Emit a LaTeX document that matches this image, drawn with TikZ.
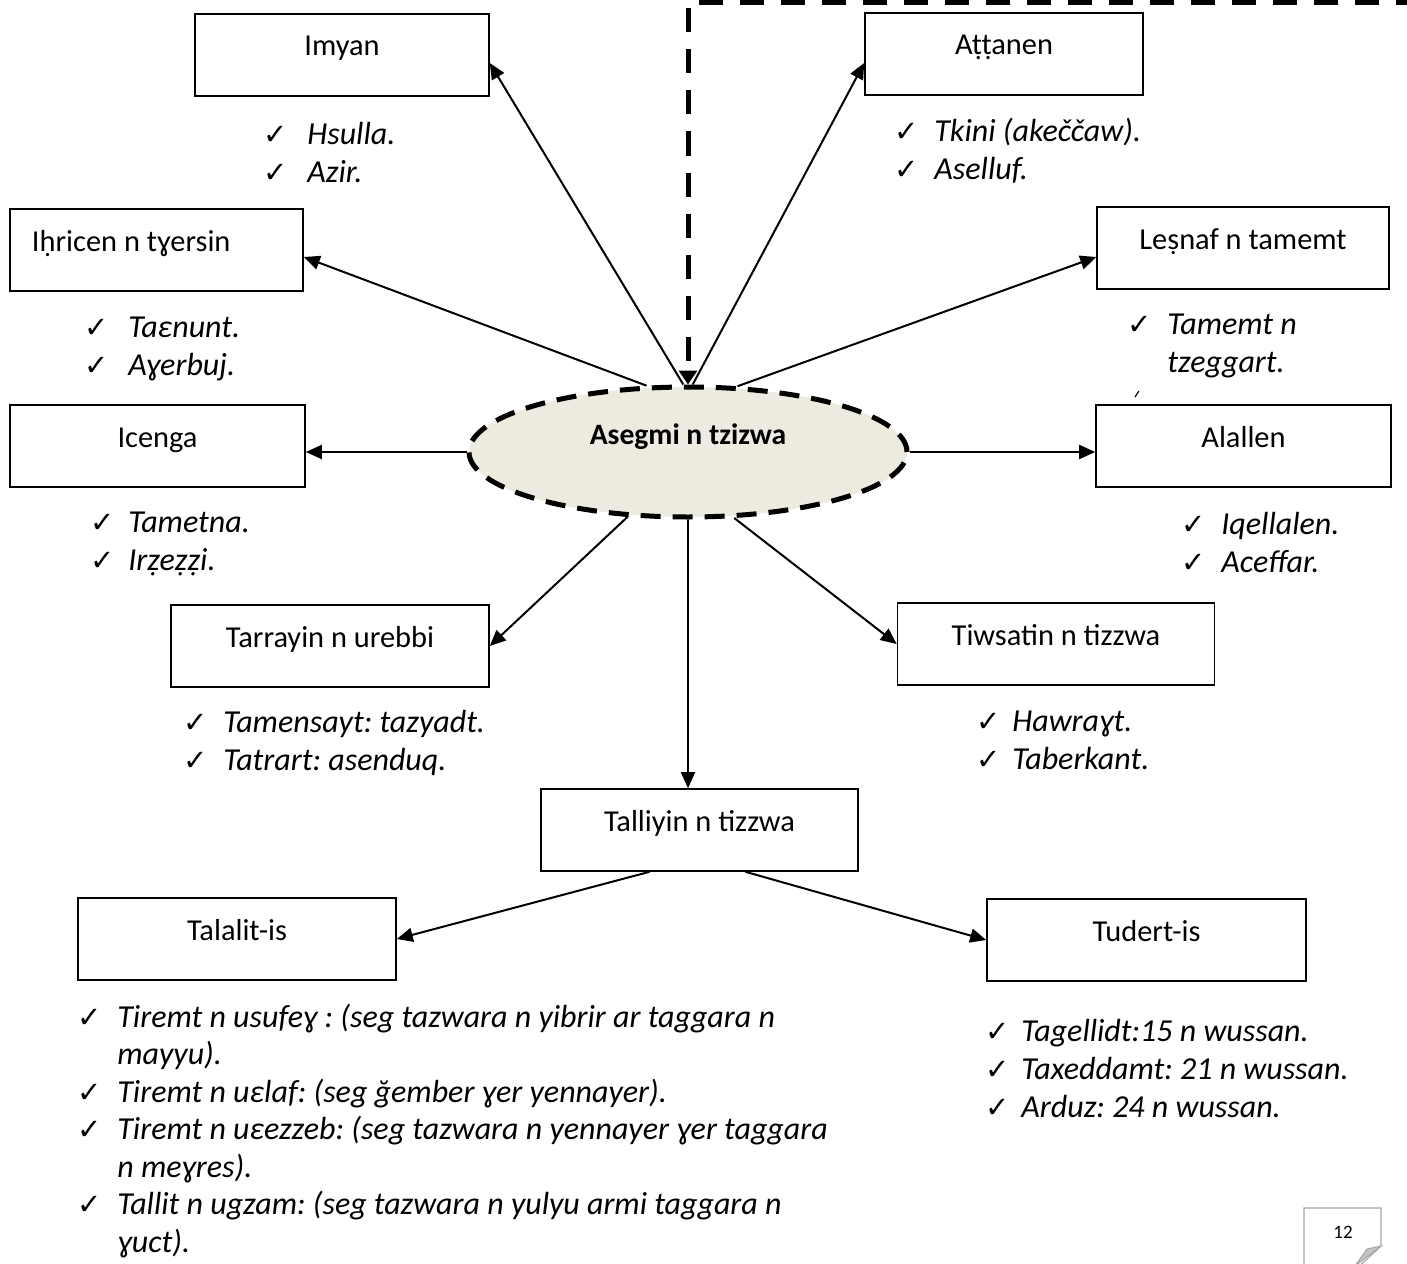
\documentclass[tikz,border=0pt]{standalone}
\usepackage{fontspec}
\setmainfont{Carlito}
\newfontfamily\chkfont{DejaVu Sans}
\usetikzlibrary{arrows.meta,shapes.geometric}
\definecolor{hubfill}{RGB}{237,234,223}
\definecolor{pagegray}{RGB}{166,166,166}
\definecolor{curlgray}{RGB}{196,196,196}
\frenchspacing
\newcommand{\tick}[2][20pt]{\makebox[#1][l]{\chkfont\fontsize{14.5}{19}\selectfont ✓}\textit{#2}}
\newcommand{\cont}[2][20pt]{\hspace*{#1}\textit{#2}}
\newcommand{\lst}[1]{\begin{tabular}[t]{@{}l@{}}#1\end{tabular}}

\begin{document}
\begin{tikzpicture}[x=0.5pt,y=-0.5pt]
            \tikzset{box/.style={draw, line width=0.8pt, rectangle, inner sep=0pt, text height=21pt, text depth=20pt, minimum height=41pt, font=\fontsize{15.2}{19}\selectfont}}
            \tikzset{items/.style={anchor=base west, inner sep=0pt, font=\fontsize{16}{19}\selectfont}}
            \tikzset{link/.style={line width=1pt, -{Triangle[length=8pt,width=7pt]}}}
            \useasboundingbox (0,0) rectangle (1407,1263);

            \node[ellipse, draw, fill=hubfill, line width=2.5pt, dash pattern=on 10pt off 6pt, minimum width=219pt, minimum height=65pt, inner sep=0pt, text height=10pt, text depth=18pt, font=\fontsize{14.8}{19}\selectfont\bfseries] (hub) at (688,452) {Asegmi n tzizwa};

            \node[box, minimum width=147pt] (imyan) at (342,55) {Imyan};
            \node[box, minimum width=146.5pt] (ihricen) at (156.5,250) {\makebox[124.5pt][l]{Iḥricen n tɣersin}};
            \node[box, minimum width=147.5pt] (icenga) at (157.5,446) {Icenga};
            \node[box, minimum width=159pt] (tarrayin) at (330,646) {Tarrayin n urebbi};
            \node[box, minimum width=139pt] (attanen) at (1004,54) {Aṭṭanen};
            \node[box, minimum width=146pt] (lesnaf) at (1243,248) {Leṣnaf n tamemt};
            \node[box, minimum width=147.5pt] (alallen) at (1243.5,446) {Alallen};
            \node[box, minimum width=158.5pt] (tiwsatin) at (1056,644) {Tiwsatin n tizzwa};
            \node[box, minimum width=158.5pt] (talliyin) at (699.5,830) {Talliyin n tizzwa};
            \node[box, minimum width=159pt] (talalit) at (237,939) {Talalit-is};
            \node[box, minimum width=159.5pt] (tudert) at (1146.5,940) {Tudert-is};

            \node[items] (imyanlist) at (263,144) {\lst{\tick[22pt]{Hsulla.}\\ \tick[22pt]{Azir.}}};
            \node[items] (ihricenlist) at (84,337) {\lst{\tick[22pt]{Taɛnunt.}\\ \tick[22pt]{Aɣerbuj.}}};
            \node[items] (icengalist) at (90,532) {\lst{\tick[19pt]{Tametna.}\\ \tick[19pt]{Irẓeẓẓi.}}};
            \node[items] (tarrayinlist) at (183,732) {\lst{\tick{Tamensayt: tazyadt.}\\ \tick{Tatrart: asenduq.}}};
            \node[items] (attanenlist) at (894,141) {\lst{\tick{Tkini (akeččaw).}\\ \tick{Aselluf.}}};
            \node[items] (lesnaflist) at (1127,334) {\lst{\tick{Tamemt n}\\ \cont{tzeggart.}}};
            \node[items] (alallenlist) at (1181,534) {\lst{\tick{Iqellalen.}\\ \tick{Aceffar.}}};
            \node[items] (tiwsatinlist) at (976,731) {\lst{\tick[18pt]{Hawraɣt.}\\ \tick[18pt]{Taberkant.}}};
            \node[items] (tudertlist) at (985,1041) {\lst{\tick[18pt]{Tagellidt:15 n wussan.}\\ \tick[18pt]{Taxeddamt: 21 n wussan.}\\ \tick[18pt]{Arduz: 24 n wussan.}}};
            \node[items, font=\fontsize{16}{18.75}\selectfont] (talalitlist) at (77,1027) {\lst{\tick{Tiremt n usufeɣ : (seg tazwara n yibrir ar taggara n}\\
                \cont{mayyu).}\\
                \tick{Tiremt n uɛlaf: (seg ğember ɣer yennayer).}\\
                \tick{Tiremt n uɛezzeb: (seg tazwara n yennayer ɣer taggara}\\
                \cont{n meɣres).}\\
                \tick{Tallit n ugzam: (seg tazwara n yulyu armi taggara n}\\
                \cont{ɣuct).}}};

            \coordinate (corner) at (1420,2.5);
            \draw[line width=2.5pt, dash pattern=on 12pt off 8.5pt, -{Triangle[length=7pt,width=9pt]}] (corner) -| (hub.north);

            \draw[link] (hub.94) -- ([yshift=-4pt]imyan.east);
            \draw[link] (hub.86) -- ([yshift=-4.5pt]attanen.west);
            \draw[link] (hub.122) -- ([yshift=-3.5pt]ihricen.east);
            \draw[link] (hub.53) -- ([yshift=-4.5pt]lesnaf.west);
            \draw[link] (hub.west) -- (hub.west -| icenga.east);
            \draw[link] (hub.east) -- (hub.east -| alallen.west);
            \draw[link] (hub.-133) -- (tarrayin.east);
            \draw[link] (hub.-55) -- (tiwsatin.west);
            \draw[link] (hub.south) -- (hub.south |- talliyin.north);
            \draw[link] ([xshift=-25pt]talliyin.south) -- (talalit.east);
            \draw[link] ([xshift=23pt]talliyin.south) -- (tudert.west);

            \draw[line width=0.6pt] (1135,397) -- (1139,391);

            \draw[pagegray, fill=white, line width=0.6pt] (1304,1270) -- (1304,1208) -- (1381,1208) -- (1381,1246) -- (1355,1270);
            \filldraw[fill=curlgray, draw=pagegray, line width=0.5pt] (1381,1246) -- (1367,1249) -- (1355,1266) -- cycle;
            \node[font=\fontsize{9.5}{11}\selectfont] (pagenum) at (1343,1232) {12};
\end{tikzpicture}
\end{document}
